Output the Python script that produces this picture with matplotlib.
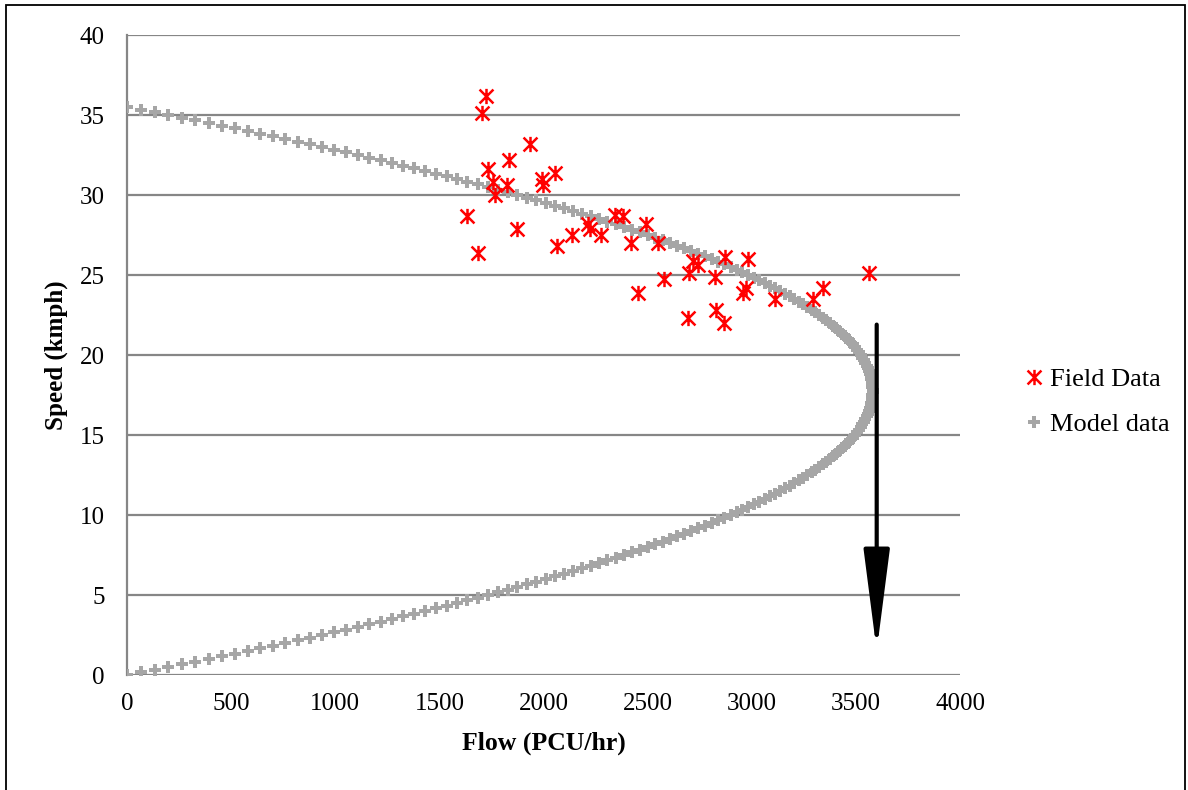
import numpy as np
import matplotlib
matplotlib.use('Agg')
import matplotlib.pyplot as plt
from matplotlib.path import Path
from matplotlib.patches import Rectangle

# field observations (flow PCU/hr, speed kmph)
field_flow = [1724, 1703, 1935, 1836, 1735, 2055, 1991, 1999, 1759, 1823,
              1767, 1631, 1871, 1684, 2063, 2139, 2215, 2225, 2275, 2343,
              2380, 2418, 2491, 2551, 2452, 2579, 2719, 2740, 2700, 2825,
              2871, 2980, 2692, 2828, 2868, 2956, 2972, 3112, 3296, 3341, 3563]
field_speed = [36.2, 35.1, 33.2, 32.2, 31.6, 31.4, 31.0, 30.6, 30.8, 30.6,
               30.0, 28.7, 27.9, 26.4, 26.8, 27.5, 28.2, 27.9, 27.5, 28.75,
               28.7, 27.0, 28.2, 27.0, 23.9, 24.75, 25.9, 25.6, 25.1, 24.9,
               26.1, 26.0, 22.3, 22.8, 22.0, 23.9, 24.2, 23.5, 23.5, 24.2, 25.1]

# model curve read along the band (speed kmph, flow PCU/hr)
model_speed = [
    0.0, 0.17, 0.33, 0.5, 0.67, 0.83, 1.0, 1.17, 1.33, 1.5, 1.67, 1.83,
    2.0, 2.17, 2.33, 2.5, 2.67, 2.83, 3.0, 3.17, 3.33, 3.5, 3.67, 3.83,
    4.0, 4.17, 4.33, 4.5, 4.67, 4.83, 5.0, 5.17, 5.33, 5.5, 5.67, 5.83,
    6.0, 6.17, 6.33, 6.5, 6.67, 6.83, 7.0, 7.17, 7.33, 7.5, 7.67, 7.83,
    8.0, 8.17, 8.33, 8.5, 8.67, 8.83, 9.0, 9.17, 9.33, 9.5, 9.67, 9.83,
    10.0, 10.17, 10.33, 10.5, 10.67, 10.83, 11.0, 11.17, 11.33, 11.5, 11.67, 11.83,
    12.0, 12.17, 12.33, 12.5, 12.67, 12.83, 13.0, 13.17, 13.33, 13.5, 13.67, 13.83,
    14.0, 14.17, 14.33, 14.5, 14.67, 14.83, 15.0, 15.17, 15.33, 15.5, 15.67, 15.83,
    16.0, 16.17, 16.33, 16.5, 16.67, 16.83, 17.0, 17.17, 17.33, 17.5, 17.67, 17.83,
    18.0, 18.17, 18.33, 18.5, 18.67, 18.83, 19.0, 19.17, 19.33, 19.5, 19.67, 19.83,
    20.0, 20.17, 20.33, 20.5, 20.67, 20.83, 21.0, 21.17, 21.33, 21.5, 21.67, 21.83,
    22.0, 22.17, 22.33, 22.5, 22.67, 22.83, 23.0, 23.17, 23.33, 23.5, 23.67, 23.83,
    24.0, 24.17, 24.33, 24.5, 24.67, 24.83, 25.0, 25.17, 25.33, 25.5, 25.67, 25.83,
    26.0, 26.17, 26.33, 26.5, 26.67, 26.83, 27.0, 27.17, 27.33, 27.5, 27.67, 27.83,
    28.0, 28.17, 28.33, 28.5, 28.67, 28.83, 29.0, 29.17, 29.33, 29.5, 29.67, 29.83,
    30.0, 30.17, 30.33, 30.5, 30.67, 30.83, 31.0, 31.17, 31.33, 31.5, 31.67, 31.83,
    32.0, 32.17, 32.33, 32.5, 32.67, 32.83, 33.0, 33.17, 33.33, 33.5, 33.67, 33.83,
    34.0, 34.17, 34.33, 34.5, 34.67, 34.83, 35.0, 35.17, 35.33, 35.5]
model_flow = [
    0, 67, 133, 199, 264, 328, 392, 455, 518, 580, 641, 701,
    761, 821, 879, 937, 995, 1052, 1108, 1163, 1218, 1273, 1326, 1379,
    1432, 1484, 1535, 1585, 1635, 1684, 1733, 1781, 1828, 1875, 1921, 1966,
    2011, 2056, 2099, 2142, 2184, 2226, 2267, 2307, 2347, 2386, 2425, 2463,
    2500, 2537, 2573, 2608, 2643, 2677, 2710, 2743, 2775, 2807, 2838, 2868,
    2898, 2927, 2955, 2983, 3010, 3037, 3062, 3088, 3112, 3136, 3160, 3182,
    3204, 3226, 3247, 3267, 3287, 3305, 3324, 3341, 3358, 3375, 3391, 3406,
    3420, 3434, 3448, 3460, 3472, 3484, 3494, 3504, 3514, 3523, 3531, 3538,
    3545, 3552, 3557, 3562, 3567, 3571, 3574, 3576, 3578, 3579, 3580, 3580,
    3579, 3578, 3576, 3574, 3571, 3567, 3562, 3557, 3552, 3545, 3538, 3531,
    3523, 3514, 3504, 3494, 3484, 3472, 3460, 3448, 3434, 3420, 3406, 3391,
    3375, 3358, 3341, 3324, 3305, 3287, 3267, 3247, 3226, 3204, 3182, 3160,
    3136, 3112, 3088, 3062, 3037, 3010, 2983, 2955, 2927, 2898, 2868, 2838,
    2807, 2775, 2743, 2710, 2677, 2643, 2608, 2573, 2537, 2500, 2463, 2425,
    2386, 2347, 2307, 2267, 2226, 2184, 2142, 2099, 2056, 2011, 1966, 1921,
    1875, 1828, 1781, 1733, 1684, 1635, 1585, 1535, 1484, 1432, 1379, 1326,
    1273, 1218, 1163, 1108, 1052, 995, 937, 879, 821, 761, 701, 641,
    580, 518, 455, 392, 328, 264, 199, 133, 67, 0]

# arrow marking the capacity flow
arrow_x = 3600
arrow_top = 21.9
arrow_bottom = 1.5

x_ticks = [0, 500, 1000, 1500, 2000, 2500, 3000, 3500, 4000]
y_ticks = [0, 5, 10, 15, 20, 25, 30, 35, 40]

plt.rcParams['font.family'] = ['Liberation Serif', 'DejaVu Serif']

W, H = 1188, 790
fig = plt.figure(figsize=(W / 100, H / 100), dpi=100)
ax = fig.add_axes([127 / W, 1 - 675 / H, (960 - 127) / W, (675 - 35) / H])

# asterisk-like marker: X with a vertical bar
star = Path([(-1, -1), (1, 1), (-1, 1), (1, -1), (0, -1.1), (0, 1.1)],
            [Path.MOVETO, Path.LINETO, Path.MOVETO, Path.LINETO, Path.MOVETO, Path.LINETO])

ax.plot(model_flow, model_speed, linestyle='none', marker='P', markersize=8,
        color='#a6a6a6', markeredgewidth=0, label='Model data', zorder=3)
ax.plot(field_flow, field_speed, linestyle='none', marker=star, markersize=11,
        markeredgewidth=1.8, color='#ff0000', label='Field Data', zorder=4)

ax.annotate('', xy=(arrow_x, arrow_bottom), xytext=(arrow_x, arrow_top),
            arrowprops=dict(arrowstyle='-|>,head_length=3.1,head_width=0.4',
                            mutation_scale=20, lw=3, color='black',
                            shrinkA=0, shrinkB=0), zorder=5)

ax.set_xlim(0, 4000)
ax.set_ylim(0, 40)
ax.set_xticks(x_ticks)
ax.set_yticks(y_ticks)
ax.tick_params(length=0, labelsize=18)
ax.tick_params(axis='y', pad=16)
ax.tick_params(axis='x', pad=13)
ax.yaxis.grid(True, color='#868686', lw=1.6)
ax.set_axisbelow(True)
for s in ['top', 'right', 'bottom']:
    ax.spines[s].set_visible(False)
ax.spines['left'].set_color('#868686')
ax.spines['left'].set_linewidth(1.6)

ax.set_xlabel('Flow (PCU/hr)', fontsize=18.5, fontweight='bold')
ax.set_ylabel('Speed (kmph)', fontsize=18, fontweight='bold')
ax.yaxis.set_label_coords(-0.071, 0.5)
ax.xaxis.set_label_coords(0.5, -0.089)

h, l = ax.get_legend_handles_labels()
fig.legend(h[::-1], l[::-1], loc='center left', bbox_to_anchor=(1010 / W, 1 - 402 / H),
           frameon=False, fontsize=19, borderpad=0, handlelength=0.8,
           handletextpad=0.2, labelspacing=0.8)

fig.patches.append(Rectangle((6 / W, -0.05), (1185 - 6) / W, 1 - 5 / H + 0.05,
                             transform=fig.transFigure, fill=False,
                             ec='black', lw=1.3))

fig.savefig('out.png', dpi=100)
